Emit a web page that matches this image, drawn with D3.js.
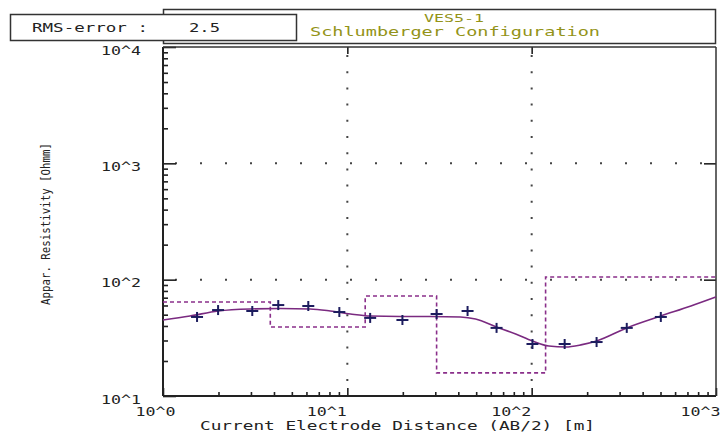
<!DOCTYPE html>
<html>
<head>
<meta charset="utf-8">
<script src="https://cdn.jsdelivr.net/npm/d3@7"></script>
<style>
  html, body { margin: 0; padding: 0; background: #ffffff; }
  svg { display: block; }
  text { font-family: "DejaVu Sans Mono", "Liberation Mono", monospace; }
</style>
</head>
<body>
<svg id="chart" width="723" height="437"></svg>
<script>
// ---- data ----
const rmsLabel = "RMS-error :";
const rmsValue = "2.5";
const titleLine1 = "VES5-1";
const titleLine2 = "Schlumberger Configuration";
const xTitle = "Current Electrode Distance (AB/2) [m]";
const yTitle = "Appar. Resistivity [Ohmm]";

const xMajorTicks = [1, 10, 100, 1000];
const yMajorTicks = [10, 100, 1000, 10000];
const xTickLabels = ["10^0", "10^1", "10^2", "10^3"];
const yTickLabels = ["10^1", "10^2", "10^3", "10^4"];

// measured apparent resistivity (crosses)
const measAB2 = [1.53, 1.99, 3.05, 4.22, 6.14, 9.05, 13.3, 19.9, 30.5, 44.9, 64.5, 101, 151, 225, 328, 502];
const measRho = [47.8, 54.8, 53.8, 60.5, 59.4, 52.7, 46.9, 45.0, 50.7, 53.8, 38.5, 28.0, 28.0, 29.1, 38.5, 47.8];

// calculated model curve
const curveAB2 = [1.0, 1.40, 1.99, 2.97, 4.32, 6.29, 8.08, 10.4, 13.3, 19.4, 28.2, 41.1, 49.6, 64.5, 81.9, 101, 124, 153, 185, 225, 328, 502, 731, 1000];
const curveRho = [45.0, 48.7, 53.8, 56.0, 56.5, 56.0, 53.8, 50.7, 48.7, 48.3, 48.3, 47.8, 45.9, 39.2, 34.1, 29.7, 26.9, 26.4, 27.5, 29.7, 38.5, 48.7, 59.4, 71.0];

// layered model (resistivity per layer, boundary depths)
const layerRho = [64.3, 39.2, 72.4, 15.8, 105.5];
const layerDepth = [3.82, 12.5, 30.5, 119];

// ---- layout ----
const svg = d3.select("#chart");
const L = 163, R = 716, T = 47, B = 396;
const FONT = "DejaVu Sans Mono";

const x = d3.scaleLog().domain([1, 1000]).range([L, R]);
const y = d3.scaleLog().domain([10, 10000]).range([B, T]);

const minor = (lo, hi) => {
  const out = [];
  for (let d = lo; d < hi; d *= 10) for (let k = 2; k <= 9; k++) out.push(d * k);
  return out;
};

function wideText(sel, len) {
  return sel.attr("textLength", len).attr("lengthAdjust", "spacingAndGlyphs");
}

// title box
svg.append("rect").attr("x", 163.5).attr("y", 9.5).attr("width", 552).attr("height", 34)
  .attr("fill", "#fff").attr("stroke", "#333").attr("stroke-width", 1.5);
wideText(svg.append("text").attr("x", 424).attr("y", 22)
  .attr("font-size", 10.5).attr("fill", "#939318").text(titleLine1), 60);
wideText(svg.append("text").attr("x", 310).attr("y", 36)
  .attr("font-size", 12).attr("fill", "#939318").text(titleLine2), 290);

// RMS box
svg.append("rect").attr("x", 10.5).attr("y", 14.5).attr("width", 286).attr("height", 26)
  .attr("fill", "#fff").attr("stroke", "#333").attr("stroke-width", 1.5);
wideText(svg.append("text").attr("x", 32).attr("y", 32).attr("font-size", 12)
  .attr("fill", "#222").text(rmsLabel), 116);
wideText(svg.append("text").attr("x", 189).attr("y", 32).attr("font-size", 12)
  .attr("fill", "#222").text(rmsValue), 31);

// grid (dotted)
const grid = svg.append("g").attr("stroke", "#444").attr("stroke-width", 2);
[10, 100].forEach(v => {
  grid.append("line").attr("x1", x(v)).attr("x2", x(v)).attr("y1", T + 8).attr("y2", B)
    .attr("stroke-dasharray", "2,14.2");
});
[100, 1000].forEach(v => {
  grid.append("line").attr("y1", y(v)).attr("y2", y(v)).attr("x1", L + 12).attr("x2", R)
    .attr("stroke-dasharray", "2,23");
});

// axes
function styleAxis(g) {
  g.select(".domain").remove();
  g.selectAll("line").attr("stroke", "#222").attr("stroke-width", 1.6);
  g.selectAll("text").attr("font-family", FONT).attr("font-size", 12)
    .attr("fill", "#222").attr("textLength", 40).attr("lengthAdjust", "spacingAndGlyphs");
}

svg.append("g").attr("transform", `translate(${L},0)`)
  .call(d3.axisLeft(y).tickValues(minor(10, 10000)).tickSize(-5).tickFormat(""))
  .call(styleAxis);
svg.append("g").attr("transform", `translate(${L},0)`)
  .call(d3.axisLeft(y).tickValues(yMajorTicks).tickSize(-13).tickPadding(22)
    .tickFormat((d, i) => yTickLabels[i]))
  .call(styleAxis)
  .call(g => g.selectAll("text").attr("dy", null).attr("y", 7));

svg.append("g").attr("transform", `translate(0,${B})`)
  .call(d3.axisBottom(x).tickValues(minor(1, 1000)).tickSize(-4).tickFormat(""))
  .call(styleAxis);
svg.append("g").attr("transform", `translate(0,${B})`)
  .call(d3.axisBottom(x).tickValues(xMajorTicks).tickSize(-8).tickFormat((d, i) => xTickLabels[i]))
  .call(styleAxis)
  .call(g => g.selectAll("text").attr("dy", null).attr("y", 20)
    .attr("text-anchor", "end").attr("x", (d, i) => i === 0 ? 12 : (i === 3 ? 4 : -1)));

svg.append("g").attr("transform", `translate(0,${T})`)
  .call(d3.axisTop(x).tickValues([10, 100]).tickSize(-7).tickFormat(""))
  .call(styleAxis);
svg.append("g").attr("transform", `translate(${R},0)`)
  .call(d3.axisRight(y).tickValues([100, 1000]).tickSize(-12).tickFormat(""))
  .call(styleAxis);

// plot frame
svg.append("line").attr("x1", L).attr("x2", L).attr("y1", T).attr("y2", B).attr("stroke", "#222").attr("stroke-width", 2);
svg.append("line").attr("x1", L).attr("x2", R).attr("y1", B).attr("y2", B).attr("stroke", "#222").attr("stroke-width", 2);
svg.append("line").attr("x1", L).attr("x2", R).attr("y1", T).attr("y2", T).attr("stroke", "#333").attr("stroke-width", 1.5);
svg.append("line").attr("x1", R).attr("x2", R).attr("y1", T).attr("y2", B).attr("stroke", "#333").attr("stroke-width", 1.5);

// axis titles
wideText(svg.append("text").attr("x", 200).attr("y", 430)
  .attr("font-size", 12).attr("fill", "#222").text(xTitle), 395);
wideText(svg.append("text").attr("transform", "translate(50,305) rotate(-90)")
  .attr("font-size", 12).attr("fill", "#222").text(yTitle), 162);

// layered model (dashed step)
const stepPts = [];
layerRho.forEach((r, i) => {
  const x0 = i === 0 ? 1 : layerDepth[i - 1];
  const x1 = i === layerRho.length - 1 ? 1000 : layerDepth[i];
  stepPts.push([x0, r], [x1, r]);
});
svg.append("path")
  .attr("d", d3.line().x(d => x(d[0])).y(d => y(d[1]))(stepPts))
  .attr("fill", "none").attr("stroke", "#8a2f8a").attr("stroke-width", 1.6)
  .attr("stroke-dasharray", "4,3");

// model curve
svg.append("path")
  .attr("d", d3.line().x(d => x(d[0])).y(d => y(d[1])).curve(d3.curveMonotoneX)(curveAB2.map((v, i) => [v, curveRho[i]])))
  .attr("fill", "none").attr("stroke", "#7a2a80").attr("stroke-width", 1.6);

// measured crosses
const cross = svg.append("g").attr("stroke", "#1c1c5e").attr("stroke-width", 2);
measAB2.forEach((v, i) => {
  const cx = x(v), cy = y(measRho[i]);
  cross.append("line").attr("x1", cx - 6).attr("x2", cx + 6).attr("y1", cy).attr("y2", cy);
  cross.append("line").attr("x1", cx).attr("x2", cx).attr("y1", cy - 5).attr("y2", cy + 5);
});
</script>
</body>
</html>
